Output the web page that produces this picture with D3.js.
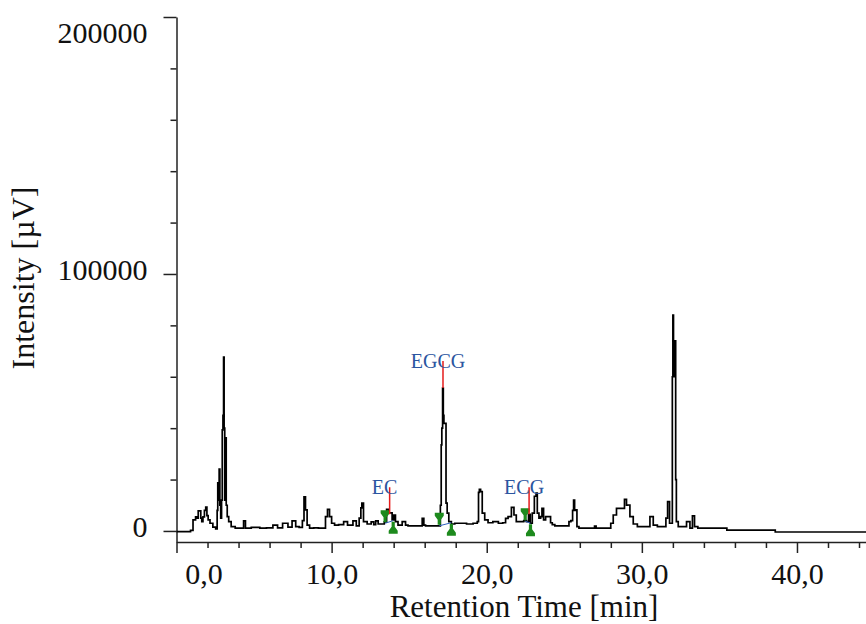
<!DOCTYPE html>
<html>
<head>
<meta charset="utf-8">
<script src="https://cdn.jsdelivr.net/npm/d3@7"></script>
<style>
	body { margin: 0; background: #fff; }
	svg { display: block; }
	.axis text { font-family: "Liberation Serif", "Times New Roman", serif; fill: #111; }
	.axis path, .axis line { stroke: #222; stroke-width: 1.5; }
</style>
</head>
<body>
<svg class="chart" width="866" height="624"></svg>
<script>
//chromatogram trace: [retention time (min), intensity (uV)]
let trace = [
	[0, -300], [0.84, -300], [0.97, 200], [1.16, 4300], [1.30, 5500], [1.35, 5000],
	[1.45, 7800], [1.53, 7800], [1.60, 5000], [1.66, 3600], [1.75, 5500], [1.85, 8000],
	[1.92, 9300], [2.00, 6000], [2.08, 4300], [2.24, 3000], [2.45, 1500], [2.60, 800],
	[2.64, 8000], [2.68, 18700], [2.73, 12000], [2.77, 24100], [2.82, 10000], [2.88, 5000],
	[2.93, 12000], [2.97, 39300], [3.02, 45000], [3.05, 67700], [3.09, 40000], [3.13, 12000],
	[3.18, 36200], [3.23, 10000], [3.31, 5600], [3.42, 3600], [3.63, 1700], [3.94, 1100],
	[4.26, 1100], [4.39, 3900], [4.50, 1100], [5.14, 1400], [5.60, 1100], [6.00, 1200],
	[6.43, 2300], [6.60, 1200], [7.08, 3000], [7.29, 1500], [7.61, 3900], [7.76, 1700],
	[8.05, 1400], [8.18, 4000], [8.26, 13300], [8.37, 8200], [8.47, 2300], [8.69, 1100],
	[9.00, 1200], [9.30, 1100], [9.55, 1100], [9.66, 5600], [9.81, 8400], [9.92, 5600],
	[10.08, 3000], [10.30, 2300], [10.60, 2500], [10.95, 3600], [11.10, 2300], [11.27, 2300],
	[11.48, 3900], [11.70, 2000], [11.85, 5000], [11.92, 9000], [11.98, 10800], [12.13, 3600],
	[12.45, 2700], [12.65, 3500], [12.78, 2500], [12.90, 3900], [13.10, 2700], [13.31, 2700],
	[13.48, 3500], [13.61, 8400], [13.74, 7000], [13.85, 7000], [13.95, 4300], [14.06, 6200],
	[14.17, 3600], [14.39, 2300], [14.71, 3600], [14.82, 2300], [15.03, 2000], [15.79, 2000],
	[15.89, 4900], [16.00, 2300], [16.11, 2000], [16.97, 2000], [17.05, 10000], [17.08, 33500],
	[17.13, 40000], [17.18, 55600], [17.22, 45000], [17.26, 41900], [17.35, 41900], [17.40, 10800],
	[17.50, 6900], [17.61, 3600], [17.83, 2700], [18.05, 3000], [18.50, 3000], [18.90, 2700],
	[19.34, 3000], [19.44, 3600], [19.50, 15000], [19.55, 16200], [19.66, 15300], [19.76, 6900],
	[19.98, 4300], [20.19, 3200], [20.60, 3600], [20.90, 3000], [21.16, 3200], [21.27, 4900],
	[21.48, 5600], [21.70, 9200], [21.81, 6200], [22.00, 3600], [22.32, 3600], [22.45, 4000],
	[22.66, 3600], [22.73, 6500], [22.88, 3000], [22.99, 6900], [23.15, 13500], [23.21, 14700],
	[23.31, 6900], [23.42, 5000], [23.53, 5600], [23.59, 8800], [23.74, 4300], [23.85, 5600],
	[24.06, 5600], [24.17, 3200], [24.28, 2500], [24.50, 2000], [25.25, 2000], [25.35, 3600],
	[25.50, 4000], [25.57, 8000], [25.63, 12000], [25.70, 8000], [25.74, 8200], [25.89, 1700],
	[26.00, 1100], [26.90, 1100], [27.00, 1900], [27.10, 1100], [27.94, 1100], [28.05, 3000],
	[28.26, 6200], [28.47, 8800], [28.79, 8800], [28.97, 12300], [29.05, 10000], [29.12, 10100],
	[29.34, 5600], [29.55, 2700], [29.87, 1700], [30.41, 1700], [30.63, 5600], [30.84, 2300],
	[31.16, 1700], [31.48, 1700], [31.62, 5000], [31.70, 11400], [31.76, 11400], [31.81, 3000],
	[31.95, 3000], [31.98, 60000], [32.02, 84000], [32.06, 60000], [32.10, 74000], [32.15, 74000],
	[32.21, 20000], [32.24, 3600], [32.45, 1700], [32.77, 1700], [32.99, 3600], [33.21, 1100],
	[33.31, 5900], [33.48, 1700], [33.74, 1100], [35.46, 1100], [35.50, 300], [38.58, 300],
	[38.62, -400], [44.45, -400]
];

//identified peaks
let peakNames = ["EC", "EGCG", "ECG"];
let peakTimes = [13.74, 17.18, 22.73];
let peakTops = [6500, 55600, 6500];
let peakStartTimes = [13.45, 16.94, 22.48];
let peakStartValues = [3000, 2000, 3800];
let peakEndTimes = [13.97, 17.72, 22.82];
let peakEndValues = [4000, 3200, 3000];

//axis ticks
let xMajorTicks = [0, 10, 20, 30, 40];
let xMinorTicks = [2, 4, 6, 8, 12, 14, 16, 18, 22, 24, 26, 28, 32, 34, 36, 38, 42, 44];
let yMajorTicks = [0, 100000, 200000];
let yMinorTicks = [20000, 40000, 60000, 80000, 120000, 140000, 160000, 180000];

let svg = d3.select(".chart");

let x = d3.scaleLinear().domain([0, 44.45]).range([176.5, 866]);
let y = d3.scaleLinear().domain([-4300, 200000]).range([542, 17]);

//x axis
svg.append("g")
	.attr("class", "axis")
	.attr("transform", "translate(0," + y(-4300) + ")")
	.call(d3.axisBottom(x).tickValues(xMinorTicks).tickSize(6).tickSizeOuter(0).tickFormat(""));

let xAxis = svg.append("g")
	.attr("class", "axis")
	.attr("transform", "translate(0," + y(-4300) + ")")
	.call(d3.axisBottom(x).tickValues(xMajorTicks).tickSize(11).tickSizeOuter(0).tickPadding(10)
		.tickFormat(function(d) { return d3.format(".1f")(d).replace(".", ","); }));
xAxis.select(".domain").remove();
xAxis.selectAll("text").style("font-size", "30px");
//first label is pushed clear of the y axis
xAxis.selectAll("text").filter(function(d) { return d === 0; }).attr("dx", 27);

//y axis
svg.append("g")
	.attr("class", "axis")
	.attr("transform", "translate(" + x(0) + ",0)")
	.call(d3.axisLeft(y).tickValues(yMinorTicks).tickSize(6).tickSizeOuter(0).tickFormat(""));

let yAxis = svg.append("g")
	.attr("class", "axis")
	.attr("transform", "translate(" + x(0) + ",0)")
	.call(d3.axisLeft(y).tickValues(yMajorTicks).tickSize(13).tickSizeOuter(0).tickPadding(16)
		.tickFormat(d3.format("d")));
yAxis.select(".domain").remove();
yAxis.selectAll("text")
	.style("font-size", "30px")
	.attr("dy", function(d) { return d === 200000 ? "0.85em" : "0.18em"; });

//axis titles
svg.append("text")
	.attr("x", 524)
	.attr("y", 617)
	.attr("text-anchor", "middle")
	.style("font", "31px 'Liberation Serif', serif")
	.style("fill", "#111")
	.text("Retention Time [min]");

svg.append("text")
	.attr("transform", "translate(34,278) rotate(-90)")
	.attr("text-anchor", "middle")
	.style("font", "32px 'Liberation Serif', serif")
	.style("fill", "#111")
	.text("Intensity [\u00b5V]");

//trace, drawn in steps like the instrument software does
let line = d3.line()
	.curve(d3.curveStep)
	.x(function(d) { return x(d[0]); })
	.y(function(d) { return y(d[1]); });

svg.append("path")
	.datum(trace)
	.attr("d", line)
	.style("fill", "none")
	.style("stroke", "#000")
	.style("stroke-width", 1.7)
	.style("stroke-linejoin", "miter");

//peak baselines
let peaks = peakNames.map(function(name, i) {
	return {
		name: name, time: peakTimes[i], top: peakTops[i],
		start: peakStartTimes[i], startValue: peakStartValues[i],
		end: peakEndTimes[i], endValue: peakEndValues[i]
	};
});

svg.selectAll(".peak-base")
	.data(peaks)
	.enter()
	.append("line")
	.attr("class", "peak-base")
	.attr("x1", function(d) { return x(d.start); })
	.attr("y1", function(d) { return y(d.startValue); })
	.attr("x2", function(d) { return x(d.end); })
	.attr("y2", function(d) { return y(d.endValue); })
	.style("stroke", "#2f5fc0")
	.style("stroke-width", 1);

//peak start / end markers
let markerPath = "M0,0 L1.6,0 L1.6,5 L4.5,9 L4.5,12 L-4.5,12 L-4.5,9 L-1.6,5 L-1.6,0 Z";

svg.selectAll(".peak-start")
	.data(peaks)
	.enter()
	.append("path")
	.attr("class", "peak-start")
	.attr("d", markerPath)
	.attr("transform", function(d) { return "translate(" + x(d.start) + "," + (y(d.startValue) - 1) + ") scale(1,-1)"; })
	.style("fill", "#1d8a1d");

svg.selectAll(".peak-end")
	.data(peaks)
	.enter()
	.append("path")
	.attr("class", "peak-end")
	.attr("d", markerPath)
	.attr("transform", function(d) { return "translate(" + x(d.end) + "," + (y(d.endValue) + 1) + ")"; })
	.style("fill", "#1d8a1d");

//peak top markers and names
svg.selectAll(".peak-top")
	.data(peaks)
	.enter()
	.append("line")
	.attr("class", "peak-top")
	.attr("x1", function(d) { return x(d.time); })
	.attr("x2", function(d) { return x(d.time); })
	.attr("y1", function(d) { return y(d.top); })
	.attr("y2", function(d) { return y(d.top) - 27; })
	.style("stroke", "#e51c1c")
	.style("stroke-width", 1.5);

svg.selectAll(".peak-label")
	.data(peaks)
	.enter()
	.append("text")
	.attr("class", "peak-label")
	.attr("x", function(d) { return x(d.time) - 5; })
	.attr("y", function(d) { return y(d.top) - 20; })
	.attr("text-anchor", "middle")
	.style("font", "20px 'Liberation Serif', serif")
	.style("fill", "#2b55a0")
	.text(function(d) { return d.name; });
</script>
</body>
</html>
